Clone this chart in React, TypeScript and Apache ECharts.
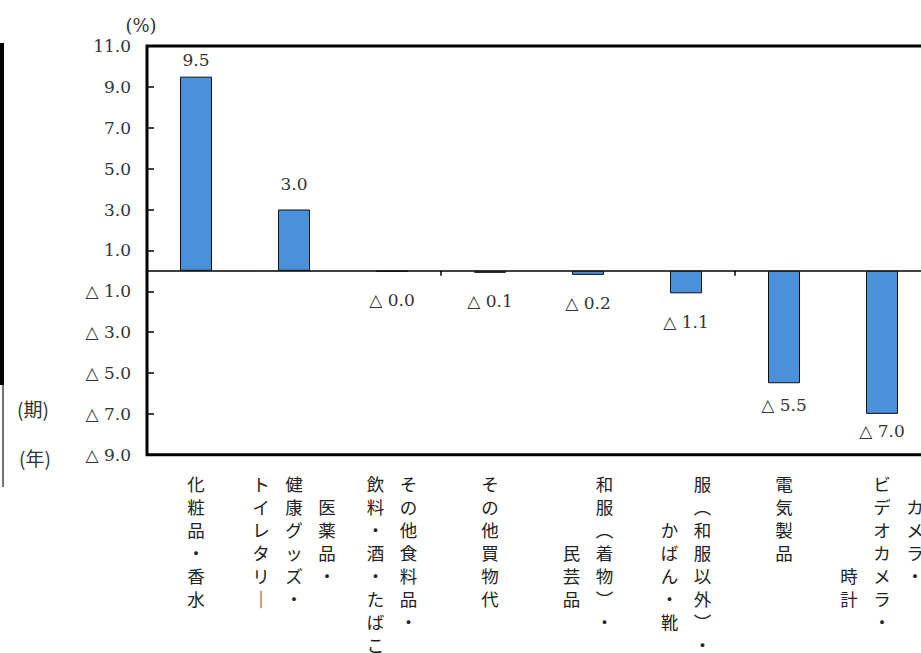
import React, { useEffect, useRef } from "react";
import * as echarts from "echarts";

// Category labels: each inner array is one vertical column (first = rightmost)
const categoryColumns: string[][] = [
  ["化粧品・香水"],
  ["医薬品・", "健康グッズ・", "トイレタリー"],
  ["その他食料品・", "飲料・酒・たばこ"],
  ["その他買物代"],
  ["和服（着物）・", "民芸品"],
  ["服（和服以外）・", "かばん・靴"],
  ["電気製品"],
  ["カメラ・", "ビデオカメラ・", "時計"],
];
const categories = categoryColumns.map((c) => c.join(""));

// Year-on-year change (%), △ = negative
const values = [9.5, 3.0, -0.04, -0.1, -0.2, -1.1, -5.5, -7.0];

// Vertical start offset (in rows) of each label column
const columnShift: number[][] = [[0], [1, 0, 0], [0, 0], [0], [0, 3], [0, 2], [0], [1, 0, 4]];
// Gap between bar end and its value label (px)
const labelGaps = [8, 17, 20, 20, 20, 20, 13, 9];

const VERT: Record<string, string> = { "（": "︵", "）": "︶", "ー": "｜" };

const numFont = "'DejaVu Serif', 'Liberation Serif', serif";
const jpFont = "'Noto Sans CJK JP', sans-serif";

function fmtNum(v: number): string {
  if (v < 0) return "△ " + Math.abs(v).toFixed(1);
  return v.toFixed(1);
}

function verticalLabel(_v: string, index: number): string {
  const cols = categoryColumns[index];
  const shifts = columnShift[index];
  let rows = 0;
  cols.forEach((c, i) => {
    rows = Math.max(rows, Array.from(c).length + shifts[i]);
  });
  const lines: string[] = [];
  for (let r = 0; r < rows; r++) {
    const parts: string[] = [];
    for (let k = cols.length - 1; k >= 0; k--) {
      const chars = Array.from(cols[k]);
      const j = r - shifts[k];
      const ch = j >= 0 && j < chars.length ? VERT[chars[j]] || chars[j] : "\u3000";
      parts.push("{c|" + ch + "}");
    }
    lines.push(parts.join("{s|\u3000}"));
  }
  return lines.join("\n");
}

export default function App() {
  const ref = useRef<HTMLDivElement>(null);
  useEffect(() => {
    const chart = echarts.init(ref.current!, null, { renderer: "svg" });
    chart.setOption({
      animation: false,
      backgroundColor: "#ffffff",
      grid: {
        left: 147,
        top: 46,
        width: 784,
        height: 411,
        show: true,
        borderColor: "#000",
        borderWidth: 3,
        backgroundColor: "transparent",
      },
      xAxis: [
        {
          type: "category",
          data: categories,
          position: "bottom",
          axisLine: { show: false, onZero: false },
          axisTick: { show: false },
          axisLabel: {
            interval: 0,
            margin: 17,
            formatter: verticalLabel,
            align: "center",
            rich: {
              c: { fontSize: 17.5, lineHeight: 23, fontFamily: jpFont, color: "#222" },
              s: { fontSize: 15.5, lineHeight: 23, fontFamily: jpFont, color: "#222" },
            },
          },
        },
        {
          type: "category",
          data: categories,
          position: "bottom",
          axisLine: { show: true, onZero: true, lineStyle: { color: "#000", width: 1.5 } },
          axisTick: { show: true, length: 5, lineStyle: { color: "#000", width: 1.5 } },
          axisLabel: { show: false },
        },
      ],
      yAxis: {
        type: "value",
        min: -9,
        max: 11,
        interval: 2,
        axisLine: { show: false },
        axisTick: { show: true, inside: true, length: 7, lineStyle: { color: "#000", width: 1.5 } },
        splitLine: { show: false },
        axisLabel: {
          formatter: (v: number) => fmtNum(v),
          fontFamily: numFont,
          fontSize: 17,
          color: "#333",
          margin: 16,
        },
      },
      series: [
        {
          type: "bar",
          xAxisIndex: 0,
          yAxisIndex: 0,
          barWidth: 32,
          data: values.map((v, i) => ({
            value: v,
            label: { position: v < 0 ? "bottom" : "top", distance: labelGaps[i] },
          })),
          itemStyle: { color: "#4A90DA", borderColor: "#111", borderWidth: 1 },
          label: {
            show: true,
            formatter: (p: any) => fmtNum(p.value),
            fontFamily: numFont,
            fontSize: 17,
            color: "#333",
          },
        },
      ],
      graphic: [
        { type: "rect", shape: { x: 0, y: 43, width: 4, height: 342 }, style: { fill: "#000" } },
        { type: "line", shape: { x1: 3, y1: 385, x2: 3, y2: 487 }, style: { stroke: "#444", lineWidth: 1.5 } },
        {
          type: "text",
          x: 141,
          y: 25,
          style: { text: "(%)", fontSize: 18, fontFamily: numFont, fill: "#333", align: "center", verticalAlign: "middle" },
        },
        {
          type: "text",
          x: 33,
          y: 408,
          style: { text: "(期)", fontSize: 19, fontFamily: jpFont, fill: "#333", align: "center", verticalAlign: "middle" },
        },
        {
          type: "text",
          x: 35,
          y: 457,
          style: { text: "(年)", fontSize: 19, fontFamily: jpFont, fill: "#333", align: "center", verticalAlign: "middle" },
        },
      ],
    });
    return () => chart.dispose();
  }, []);
  return (
    <div
      style={{
        position: "fixed",
        left: 0,
        top: 0,
        width: 921,
        height: 653,
        overflow: "hidden",
        background: "#fff",
      }}
    >
      <div ref={ref} style={{ width: 960, height: 653 }} />
    </div>
  );
}
